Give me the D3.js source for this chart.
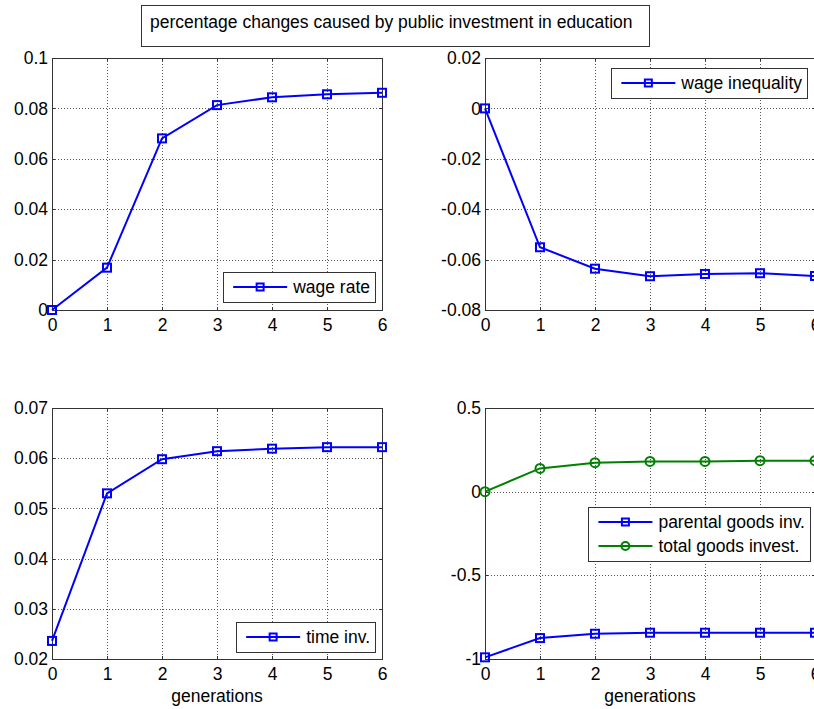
<!DOCTYPE html>
<html>
<head>
<meta charset="utf-8">
<script src="https://cdn.jsdelivr.net/npm/d3@7"></script>
<style>
  body { margin: 0; background: #fff; }
  svg { display: block; font-family: "Liberation Sans", Arial, sans-serif; }
</style>
</head>
<body>
<div id="canvas"></div>
<script>
// data
const generations = [0, 1, 2, 3, 4, 5, 6];
const wageRate = [0, 0.0168, 0.0681, 0.0813, 0.0844, 0.0856, 0.0862];
const wageInequality = [0, -0.0551, -0.0636, -0.0666, -0.0657, -0.0654, -0.0665];
const timeInv = [0.0236, 0.0530, 0.0598, 0.0614, 0.0619, 0.0622, 0.0622];
const parentalGoods = [-0.990, -0.875, -0.849, -0.843, -0.843, -0.843, -0.843];
const totalGoods = [0, 0.139, 0.173, 0.181, 0.181, 0.185, 0.185];

const ticksWageRate = [0, 0.02, 0.04, 0.06, 0.08, 0.1];
const ticksWageIneq = [-0.08, -0.06, -0.04, -0.02, 0, 0.02];
const ticksTimeInv = [0.02, 0.03, 0.04, 0.05, 0.06, 0.07];
const ticksGoods = [-1, -0.5, 0, 0.5];

const titleText = 'percentage changes caused by public investment in education';
const xLabel = 'generations';

const blue = '#0000ff', green = '#008000';
const width = 814, height = 709;
const fontSize = 17.5;

const svg = d3.select('#canvas').append('svg')
  .attr('width', width).attr('height', height);
svg.append('rect').attr('width', width).attr('height', height).attr('fill', '#fff');

const panels = [
  { left: 52, top: 58, w: 330, h: 252, domain: [0, 0.1], ticks: ticksWageRate,
    series: [{ name: 'wage rate', values: wageRate, color: blue, marker: 'square' }],
    legend: { right: 7, bottom: 8 } },
  { left: 485, top: 58, w: 330, h: 252, domain: [-0.08, 0.02], ticks: ticksWageIneq,
    series: [{ name: 'wage inequality', values: wageInequality, color: blue, marker: 'square' }],
    legend: { right: 8, top: 10 } },
  { left: 52, top: 408, w: 330, h: 251, domain: [0.02, 0.07], ticks: ticksTimeInv,
    series: [{ name: 'time inv.', values: timeInv, color: blue, marker: 'square' }],
    legend: { right: 7, bottom: 7 }, xlabel: true },
  { left: 485, top: 408, w: 330, h: 251, domain: [-1, 0.5], ticks: ticksGoods,
    series: [
      { name: 'parental goods inv.', values: parentalGoods, color: blue, marker: 'square' },
      { name: 'total goods invest.', values: totalGoods, color: green, marker: 'circle' }
    ],
    legend: { right: 5, top: 99 }, xlabel: true }
];

// title box
const titleG = svg.append('g');
titleG.append('rect')
  .attr('x', 141.5).attr('y', 5.5)
  .attr('width', 508).attr('height', 41)
  .attr('fill', '#fff').attr('stroke', '#333').attr('stroke-width', 1);
titleG.append('text')
  .attr('x', 150).attr('y', 28)
  .attr('font-size', fontSize).attr('fill', '#000')
  .text(titleText);

function drawMarker(g, type, cx, cy, color, size) {
  const s = size || 8;
  if (type === 'square') {
    g.append('rect').attr('x', cx - s / 2).attr('y', cy - s / 2).attr('width', s).attr('height', s)
      .attr('fill', 'none').attr('stroke', color).attr('stroke-width', 2);
  } else {
    g.append('circle').attr('cx', cx).attr('cy', cy).attr('r', s / 2 + 0.5)
      .attr('fill', 'none').attr('stroke', color).attr('stroke-width', 2);
  }
}

panels.forEach(p => {
  const x = d3.scaleLinear().domain([0, 6]).range([p.left, p.left + p.w]);
  const y = d3.scaleLinear().domain(p.domain).range([p.top + p.h, p.top]);
  const g = svg.append('g');

  // dotted grid
  const grid = g.append('g').attr('stroke', '#555').attr('stroke-width', 1)
    .attr('stroke-dasharray', '1,2');
  generations.slice(1, -1).forEach(t => {
    grid.append('line').attr('x1', Math.round(x(t)) + 0.5).attr('x2', Math.round(x(t)) + 0.5)
      .attr('y1', p.top).attr('y2', p.top + p.h);
  });
  p.ticks.slice(1, -1).forEach(t => {
    grid.append('line').attr('y1', Math.round(y(t)) + 0.5).attr('y2', Math.round(y(t)) + 0.5)
      .attr('x1', p.left).attr('x2', p.left + p.w);
  });

  const xAxis = d3.axisBottom(x).tickValues(generations).tickSize(0).tickPadding(9).tickFormat(d3.format('d'));
  const yAxis = d3.axisLeft(y).tickValues(p.ticks).tickSize(0).tickPadding(4).tickFormat(d => String(d));
  const xg = g.append('g').attr('transform', `translate(0,${p.top + p.h})`).call(xAxis);
  const yg = g.append('g').attr('transform', `translate(${p.left},0)`).call(yAxis);
  [xg, yg].forEach(a => {
    a.select('.domain').remove();
    a.selectAll('text').attr('font-size', fontSize).attr('fill', '#000')
      .attr('font-family', '"Liberation Sans", Arial, sans-serif');
  });

  // small inward ticks on all sides
  const tk = g.append('g').attr('stroke', '#333').attr('stroke-width', 1);
  generations.forEach(t => {
    const xx = Math.round(x(t)) + 0.5;
    tk.append('line').attr('x1', xx).attr('x2', xx).attr('y1', p.top + p.h).attr('y2', p.top + p.h - 3);
    tk.append('line').attr('x1', xx).attr('x2', xx).attr('y1', p.top).attr('y2', p.top + 3);
  });
  p.ticks.forEach(t => {
    const yy = Math.round(y(t)) + 0.5;
    tk.append('line').attr('y1', yy).attr('y2', yy).attr('x1', p.left).attr('x2', p.left + 3);
    tk.append('line').attr('y1', yy).attr('y2', yy).attr('x1', p.left + p.w).attr('x2', p.left + p.w - 3);
  });

  g.append('rect').attr('x', p.left + 0.5).attr('y', p.top + 0.5)
    .attr('width', p.w).attr('height', p.h)
    .attr('fill', 'none').attr('stroke', '#333').attr('stroke-width', 1);

  // series
  const line = d3.line().x((d, i) => x(generations[i])).y(d => y(d));
  p.series.forEach(s => {
    g.append('path').datum(s.values).attr('d', line)
      .attr('fill', 'none').attr('stroke', s.color).attr('stroke-width', 2);
    s.values.forEach((v, i) => drawMarker(g, s.marker, x(generations[i]), y(v), s.color));
  });

  if (p.xlabel) {
    g.append('text').attr('x', p.left + p.w / 2).attr('y', p.top + p.h + 43)
      .attr('text-anchor', 'middle').attr('font-size', fontSize).attr('fill', '#000')
      .text(xLabel);
  }

  // legend
  const lg = g.append('g');
  const rowH = 24;
  const texts = p.series.map(s => lg.append('text')
    .attr('font-size', fontSize).attr('fill', '#000').text(s.name));
  const textW = d3.max(texts, t => t.node().getComputedTextLength());
  const boxW = 10 + 54 + 6 + textW + 5;
  const boxH = p.series.length * rowH + 6;
  const bx = p.left + p.w - p.legend.right - boxW;
  const by = p.legend.top !== undefined ? p.top + p.legend.top : p.top + p.h - p.legend.bottom - boxH;
  lg.insert('rect', 'text').attr('x', Math.round(bx) + 0.5).attr('y', Math.round(by) + 0.5)
    .attr('width', Math.round(boxW)).attr('height', boxH)
    .attr('fill', '#fff').attr('stroke', '#333').attr('stroke-width', 1);
  p.series.forEach((s, i) => {
    const cy = by + 3 + rowH * i + rowH / 2;
    lg.append('line').attr('x1', bx + 10).attr('x2', bx + 64).attr('y1', cy).attr('y2', cy)
      .attr('stroke', s.color).attr('stroke-width', 2);
    drawMarker(lg, s.marker, bx + 37, cy, s.color, 7);
    texts[i].attr('x', bx + 70).attr('y', cy + 6);
  });
});
</script>
</body>
</html>
